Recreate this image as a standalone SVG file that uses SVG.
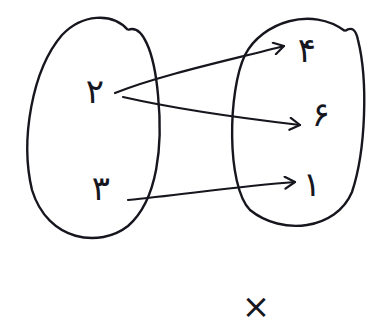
<svg xmlns="http://www.w3.org/2000/svg" width="384" height="333" viewBox="0 0 384 333">
<defs>
<style>
.set{fill:none;stroke:#16161e;stroke-width:2.4}
.edge{fill:none;stroke:#16161e;stroke-width:2.2;stroke-linecap:round}
.lbl{font-family:"DejaVu Sans",sans-serif;font-size:34px;fill:#16161e;text-anchor:middle}
</style>
<marker id="ah" viewBox="0 0 14 14" refX="12" refY="7" markerWidth="14" markerHeight="14" markerUnits="userSpaceOnUse" orient="auto">
<polyline points="2,1 12,7 2,13" fill="none" stroke="#16161e" stroke-width="2.2" stroke-linecap="round" stroke-linejoin="round"/>
</marker>
</defs>
<rect width="384" height="333" fill="#ffffff"/>
<g id="setA">
<path class="set" d="M128,30 C142,24 154,50 158,95 C163,145 158,200 128,226 C100,248 48,242 32,190 C20,140 32,70 62,35 C82,14 112,12 128,30"/>
<text class="lbl" x="95" y="103">۲</text>
<text class="lbl" x="101" y="200">۳</text>
</g>
<g id="setB">
<path class="set" d="M345,31 C352,26 356,30 358,40 C368,80 366,150 352,192 C336,230 282,236 250,210 C226,185 228,90 245,55 C262,22 312,6 345,31"/>
<text class="lbl" x="307" y="62">۴</text>
<text class="lbl" x="321" y="126">۶</text>
<text class="lbl" x="312" y="196">۱</text>
</g>
<g id="note">
<text class="lbl" x="256" y="318">×</text>
</g>
<g id="connectors">
<path class="edge" d="M115,93 C160,75 230,60 284,46" marker-end="url(#ah)"/>
<path class="edge" d="M123,97 C180,110 240,118 300,125" marker-end="url(#ah)"/>
<path class="edge" d="M128,200 C180,195 240,186 295,182" marker-end="url(#ah)"/>
</g>
</svg>
